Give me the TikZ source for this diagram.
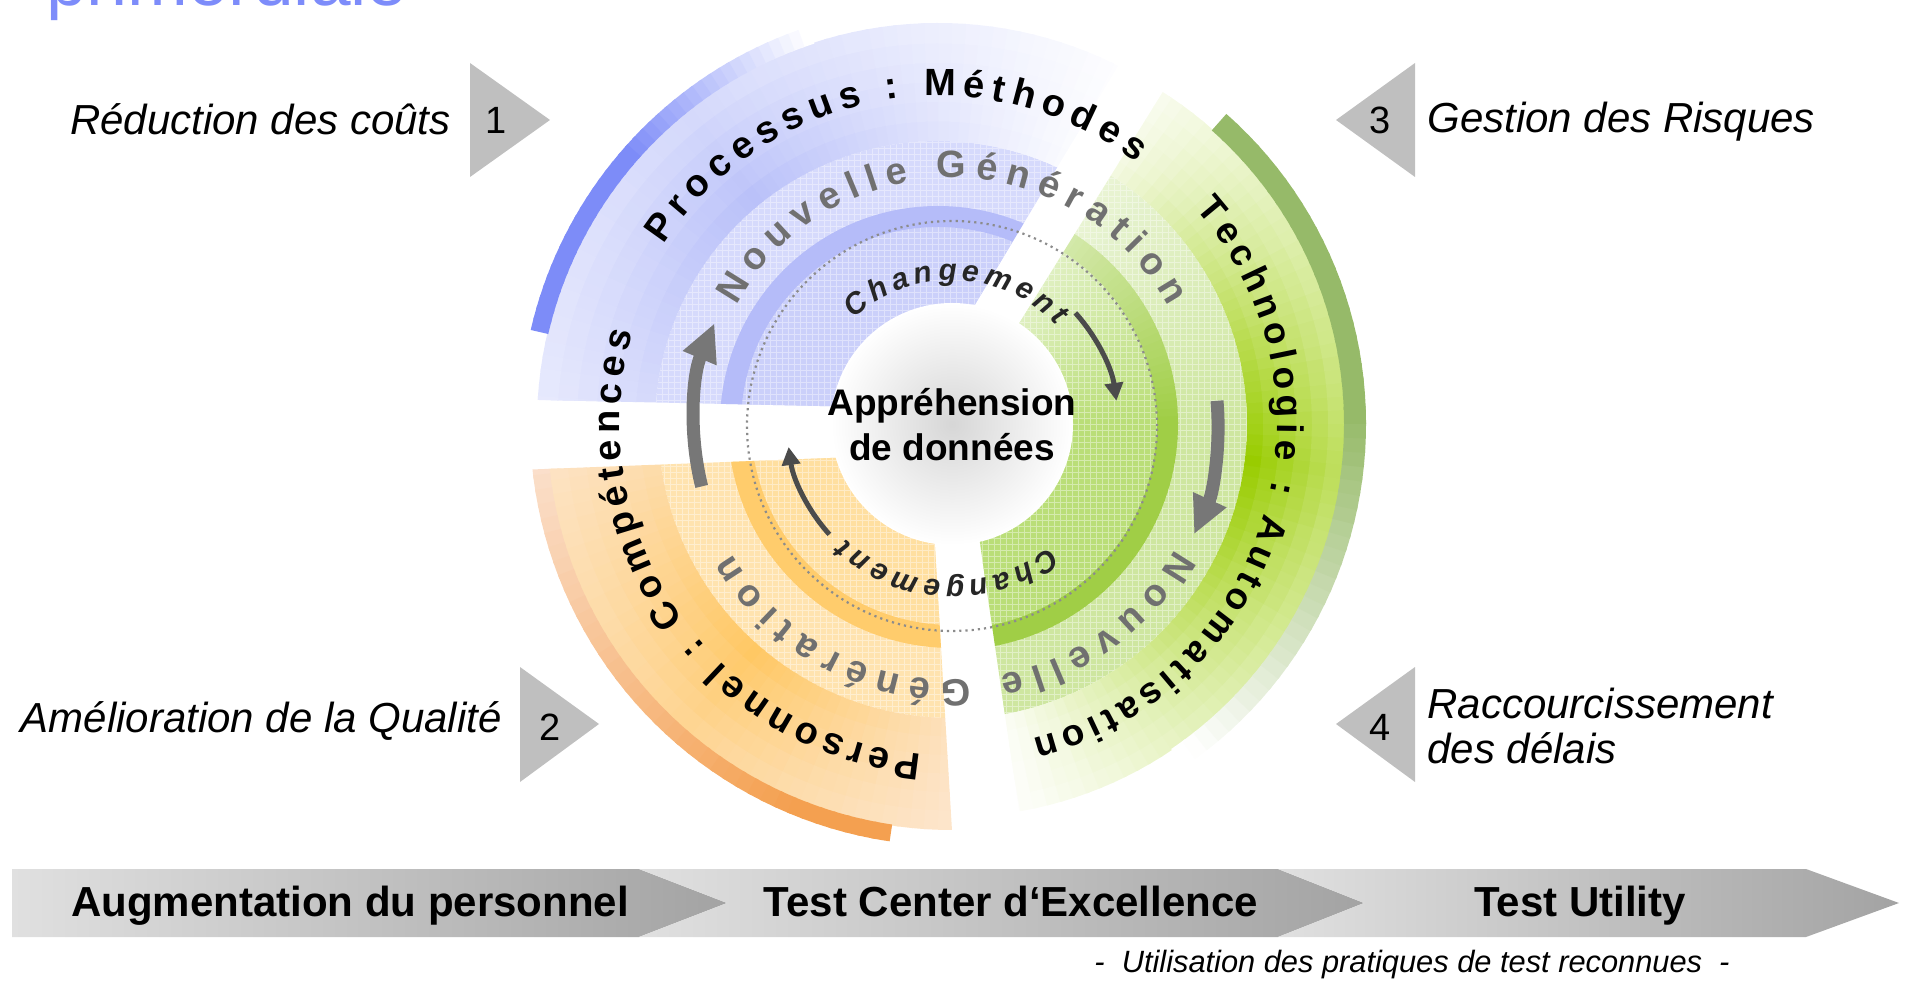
\documentclass[tikz,border=0pt]{standalone}
\usepackage{fontspec}
\setmainfont{Liberation Sans}
\usetikzlibrary{arrows.meta,decorations.text}
\definecolor{ttl}{RGB}{125,140,250}
\definecolor{triGray}{RGB}{191,191,191}
\definecolor{chvL}{RGB}{224,224,224}
\definecolor{chvR}{RGB}{163,163,163}
\definecolor{bRim}{RGB}{125,140,248}
\definecolor{bOut}{RGB}{186,193,249}
\definecolor{bGrid}{RGB}{214,218,252}
\definecolor{bBand}{RGB}{181,188,249}
\definecolor{bIn}{RGB}{203,208,250}
\definecolor{gRim}{RGB}{138,178,88}
\definecolor{gOut}{RGB}{153,204,0}
\definecolor{gGrid}{RGB}{206,230,160}
\definecolor{gBand}{RGB}{160,206,70}
\definecolor{gIn}{RGB}{186,222,120}
\definecolor{oRim}{RGB}{244,160,80}
\definecolor{oOut}{RGB}{255,200,100}
\definecolor{oPale}{RGB}{252,236,228}
\definecolor{oGrid}{RGB}{255,227,175}
\definecolor{oBand}{RGB}{255,204,108}
\definecolor{oIn}{RGB}{255,223,160}
\definecolor{arrGray}{RGB}{119,119,119}
\definecolor{arrDark}{RGB}{75,75,75}
\definecolor{ngray}{RGB}{112,112,112}
\tikzset{ lab/.style = { inner sep=0 % side label
, font=\itshape\fontsize{21}{21}\selectfont
}
, num/.style = { inner sep=0 % pointer number
, font=\fontsize{19}{19}\selectfont
}
, tri/.style = { fill=triGray } % pointer
, chv/.style = { left color=chvL, right color=chvR } % stage
, chvt/.style = { inner sep=0, anchor=base
, font=\bfseries\fontsize{21}{21}\selectfont
}
, core/.style = { inner sep=0, anchor=base
, font=\bfseries\fontsize{18.5}{18.5}\selectfont
}
, arw/.style = { line width=6.5pt, draw=arrGray
, -{Triangle[width=17pt,length=19pt]}
}
, arws/.style = { line width=2.5pt, draw=arrDark
, -{Triangle[width=9pt,length=9pt]}
}
, mesh/.style = { draw=white, line width=0.3pt, opacity=0.4 }
, dots/.style = { draw=black!45, line width=1.1pt, dotted }
}
\def\seg(#1,#2)#3#4#5{% ring slice
\fill[#5] (#1:#3) arc[start angle=#1, end angle=#2, radius=#3]
 -- (#2:#4) arc[start angle=#2, end angle=#1, radius=#4] -- cycle;
}
\def\arctext(#1,#2)#3#4{% text on an arc
\path[decorate, decoration={text along path, text align=fit to path, text={#4}}]
 (#1:#3) arc[start angle=#1, end angle=#2, radius=#3];
}
\begin{document}
\begin{tikzpicture}[x=0.5pt, y=0.5pt]
\useasboundingbox (0,0) rectangle (1909,980);
\node (title) [anchor=base west, inner sep=0, text=ttl, font=\fontsize{36.5}{36.5}\selectfont] at (46,974) {primordiale};

% pointers
\fill[tri] (470,917) -- (470,803) -- (550,860) -- cycle;
\fill[tri] (520,313) -- (520,198) -- (599,256) -- cycle;
\fill[tri] (1415,917) -- (1415,803) -- (1336,860) -- cycle;
\fill[tri] (1415,313) -- (1415,198) -- (1336,256) -- cycle;
\node (n1) [num] at (496,860) {1};
\node (n2) [num] at (550,253) {2};
\node (n3) [num] at (1380,860) {3};
\node (n4) [num] at (1380,253) {4};
\node (l1) [lab, anchor=base east] at (451,845) {Réduction des coûts};
\node (l2) [lab, anchor=base east] at (502,248) {Amélioration de la Qualité};
\node (l3) [lab, anchor=base west] at (1427,847) {Gestion des Risques};
\node (l4) [lab, anchor=base west] at (1427,262) {Raccourcissement};
\node (l5) [lab, anchor=base west] at (1427,217) {des délais};

% stages
\shade[chv] (12,111) -- (639,111) -- (727,77) -- (639,43) -- (12,43) -- cycle;
\shade[chv] (639,111) -- (1278,111) -- (1364,77) -- (1278,43) -- (639,43) -- (727,77) -- cycle;
\shade[chv] (1278,111) -- (1806,111) -- (1899,77) -- (1806,43) -- (1278,43) -- (1364,77) -- cycle;
\node (s1) [chvt] at (350,64) {Augmentation du personnel};
\node (s2) [chvt] at (1011,64) {Test Center d‘Excellence};
\node (s3) [chvt] at (1580,64) {Test Utility};
\node (foot) [anchor=base, inner sep=0, font=\itshape\fontsize{15.4}{15.4}\selectfont] at (1412,8) {-~~Utilisation des pratiques de test reconnues~~-};

% wheel
\begin{scope}[shift={(952,556)}]
% processus
\begin{scope}
\clip (-39,16) -- (-600,28) -- (-600,600) -- (311,600) -- cycle;
\begin{scope}[shift={(-14,0)}]
\fill[bGrid] (0,0) circle[radius=283];
\fill[bIn] (0,0) circle[radius=197];
\begin{scope}
\clip (0,0) circle[radius=283];
\draw[mesh] (-424,-424) grid[step=6] (424,424);
\end{scope}
\fill[bBand, even odd rule] (0,0) circle[radius=218] circle[radius=197];
\foreach \a in {50,52,...,186}{
\pgfmathsetmacro\b{\a+2.5}
\pgfmathtruncatemacro\ka{\a<128 ? max(0,100*(\a-58)/70) : 100-45*(\a-128)/52}
\foreach \j in {0,...,5}{
\pgfmathsetmacro\ra{283+\j*19.5}
\pgfmathsetmacro\rb{\ra+20.5}
\pgfmathtruncatemacro\kj{\ka*(1-\j*0.076)}
\seg(\a,\b){\ra}{\rb}{bOut!\kj!white}
}
}
\foreach \a in {108,109.5,...,166}{
\pgfmathsetmacro\b{min(\a+2,167)}
\pgfmathtruncatemacro\ka{min(100,100*(\a-108)/30)}
\seg(\a,\b){400}{418}{bRim!\ka!white}
}
\end{scope}
\end{scope}
% personnel
\begin{scope}
\clip (-22.6,-30.2) -- (-600,-52.4) -- (-600,-600) -- (11.6,-600) -- cycle;
\fill[oGrid] (0,0) circle[radius=294];
\fill[oIn] (0,0) circle[radius=201];
\begin{scope}
\clip (0,0) circle[radius=294];
\draw[mesh] (-424,-424) grid[step=6] (424,424);
\end{scope}
\fill[oBand, even odd rule] (0,0) circle[radius=224] circle[radius=201];
\foreach \a in {176,178,...,280}{
\pgfmathsetmacro\b{\a+2.5}
\pgfmathtruncatemacro\ka{\a<228 ? max(0,35+65*(\a-180)/48) : max(0,100-75*(\a-228)/44)}
\foreach \j in {0,...,5}{
\pgfmathsetmacro\ra{294+\j*18.5}
\pgfmathsetmacro\rb{\ra+19.5}
\pgfmathtruncatemacro\kj{\ka*(1-\j*0.07)}
\seg(\a,\b){\ra}{\rb}{oOut!\kj!oPale}
}
}
\foreach \a in {183,185,...,259}{
\pgfmathsetmacro\b{min(\a+2.5,262)}
\pgfmathtruncatemacro\ka{\a>246 ? 100 : 15+85*(\a-183)/63}
\seg(\a,\b){405}{422}{oRim!\ka!oPale}
}
\end{scope}
% technologie
\begin{scope}
\clip (9.5,7.7) -- (377,600) -- (600,600) -- (600,-600) -- (98,-600) -- cycle;
\foreach \a in {-86,-84,...,62}{
\pgfmathsetmacro\b{\a+2.5}
\pgfmathtruncatemacro\kq{\a>0 ? 100-55*\a/58 : 100}
\pgfmathtruncatemacro\ka{\a>-8 ? 100-90*(\a+8)/66 : max(0,100*(\a+84)/76)}
\seg(\a,\b){100}{206}{gIn!\kq!white}
\seg(\a,\b){225}{295}{gGrid!\kq!white}
\foreach \j in {0,...,5}{
\pgfmathsetmacro\ra{295+\j*16.2}
\pgfmathsetmacro\rb{\ra+17.2}
\pgfmathtruncatemacro\kj{\ka*(1-\j*0.07)}
\seg(\a,\b){\ra}{\rb}{gOut!\kj!white}
}
}
\begin{scope}
\clip (0,0) circle[radius=295];
\draw[mesh] (-424,-424) grid[step=6] (424,424);
\end{scope}
\foreach \a in {-86,-84,...,62}{
\pgfmathsetmacro\b{\a+2.5}
\pgfmathtruncatemacro\kq{\a>0 ? 100-55*\a/58 : 100}
\seg(\a,\b){205}{226}{gBand!\kq!white}
}
\foreach \a in {-56,-54,...,46}{
\pgfmathsetmacro\b{min(\a+2.5,48.5)}
\pgfmathtruncatemacro\ka{\a>0 ? 90 : max(0,90*(\a+55)/55)}
\seg(\a,\b){392}{414}{gRim!\ka!white}
}
\end{scope}

% centre
\shade[inner color=black!16, outer color=white] (0,0) circle[radius=121];
\draw[dots] (0,-2) circle[radius=205];
\draw[arw] (194:258) arc[start angle=194, end angle=157, radius=258];
\draw[arw] (5:266) arc[start angle=5, end angle=-24.5, radius=266];
\draw[arws] (42:166) arc[start angle=42, end angle=8, radius=166];
\draw[arws] (222:165) arc[start angle=222, end angle=188, radius=165];

% ring texts
\begin{scope}[shift={(-14,0)}]
\arctext(146.8,52.8){328}{|\bfseries\fontsize{19}{19}\selectfont|Processus : Méthodes}
\end{scope}
\arctext(41.5,-75.6){325}{|\bfseries\fontsize{18.5}{18.5}\selectfont|Technologie : Automatisation}
\arctext(264.8,164){332}{|\bfseries\fontsize{19}{19}\selectfont|Personnel : Compétences}
\arctext(151.2,28.5){246}{|\color{ngray}\bfseries\fontsize{19}{19}\selectfont|Nouvelle Génération}
\arctext(-29.3,-149.4){256}{|\color{ngray}\bfseries\fontsize{19}{19}\selectfont|Nouvelle Génération}
\arctext(133,43){143.5}{|\color{black!85}\bfseries\itshape\fontsize{15}{15}\selectfont|Changement}
\arctext(-51.5,-133){157}{|\color{black!85}\bfseries\itshape\fontsize{15}{15}\selectfont|Changement}

\node (ap1) [core] at (0,8) {Appréhension};
\node (ap2) [core] at (0,-37) {de données};
\end{scope}
\end{tikzpicture}
\end{document}
